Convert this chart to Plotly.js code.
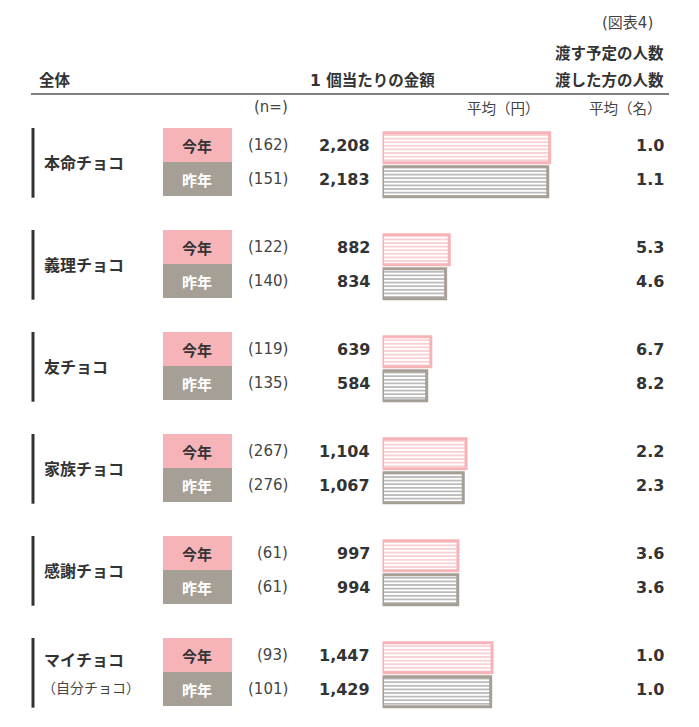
<!DOCTYPE html>
<html><head><meta charset="utf-8">
<script src="https://cdn.plot.ly/plotly-3.0.1.min.js"></script>
<style>html,body{margin:0;padding:0;background:#fff;}#c{width:699px;height:727px;}</style>
</head><body><div id="c"></div>
<script>
const categories = ["本命チョコ","義理チョコ","友チョコ","家族チョコ","感謝チョコ","マイチョコ"];
const subLabels = ["","","","","","（自分チョコ）"];
const yearLabels = ["今年","昨年"];
const nThis = [162,122,119,267,61,93];
const nLast = [151,140,135,276,61,101];
const amountThis = [2208,882,639,1104,997,1447];
const amountLast = [2183,834,584,1067,994,1429];
const peopleThis = [1.0,5.3,6.7,2.2,3.6,1.0];
const peopleLast = [1.1,4.6,8.2,2.3,3.6,1.0];

const W=699,H=727;
const px = v => v/W;
const FONT = '"Noto Sans CJK JP", "Noto Sans", sans-serif';
const NUMFONT = '"DejaVu Sans", "Noto Sans CJK JP", sans-serif';
const DARK = '#333333';
const PINK = '#F6B3B8';
const GREY = '#A69F96';

// row index: group i row j -> i*3 + j ; row center pixel = 145 + 34*row
const rowPx = 34, row0 = 145;
const yTop = -row0/rowPx, yBot = (H-row0)/rowPx;
const barStart = 382.5, pxPerYen = 0.0757;
const xMax = (W-barStart)/pxPerYen;

const yThis = categories.map((c,i)=>i*3);
const yLast = categories.map((c,i)=>i*3+1);

const fmt = v => v.toLocaleString('en-US');

const traces = [
  {type:'bar', orientation:'h', x:amountThis, y:yThis, width:0.88, offset:-0.36,
   marker:{color:'#ffffff', line:{color:PINK, width:3},
     pattern:{shape:'-', fgcolor:PINK, bgcolor:'#ffffff', size:3.6, solidity:0.3}},
   hoverinfo:'skip'},
  {type:'bar', orientation:'h', x:amountLast, y:yLast, width:0.88, offset:-0.36,
   marker:{color:'#ffffff', line:{color:GREY, width:3},
     pattern:{shape:'-', fgcolor:'#8E8E8E', bgcolor:'#ffffff', size:3.6, solidity:0.3}},
   hoverinfo:'skip'}
];

const shapes = [], annotations = [];
const txt = (x, y, text, opts={}) => annotations.push({
  xref:'paper', yref:'y', x:px(x), y:y, text:text, showarrow:false,
  xanchor:opts.xanchor||'left', yanchor:'middle',
  font:{family:opts.family||FONT, size:opts.size||15, color:opts.color||DARK, weight:opts.bold?'bold':'normal'}
});

// header
const pyToPaper = p => 1 - p/H;
const hdr = (x, p, text, o={}) => annotations.push({xref:'paper', yref:'paper', x:px(x), y:pyToPaper(p), text:text,
  showarrow:false, xanchor:o.xanchor||'left', yanchor:'middle',
  font:{family:o.family||FONT, size:o.size||15, color:o.color||DARK, weight:o.bold?'bold':'normal'}});
hdr(655, 23, "(図表4)", {xanchor:'right', size:15, color:'#444', family:NUMFONT});
hdr(666, 52, "渡す予定の人数", {xanchor:'right', bold:true, size:15.5});
hdr(666, 79, "渡した方の人数", {xanchor:'right', bold:true, size:15.5});
hdr(37, 79, "全体", {bold:true, size:15.5});
hdr(437, 79, "<span style='font-family:DejaVu Sans'>1 </span>個当たりの金額", {xanchor:'right', bold:true, size:15.5});
hdr(290, 107, "(n=)", {xanchor:'right', size:15, color:'#444', family:NUMFONT});
hdr(542, 107, "平均（円）", {xanchor:'right', size:14.5, color:'#444'});
hdr(664, 107, "平均（名）", {xanchor:'right', size:14.5, color:'#444'});
shapes.push({type:'line', xref:'paper', yref:'paper', x0:px(31), x1:px(669), y0:pyToPaper(94), y1:pyToPaper(94),
  line:{color:'#555', width:1.6}});

categories.forEach((cat,i)=>{
  const y0 = yThis[i], y1 = yLast[i];
  shapes.push({type:'line', xref:'paper', yref:'y', x0:px(33), x1:px(33), y0:y0-0.5, y1:y1+0.55,
    line:{color:DARK, width:3}});
  shapes.push({type:'rect', xref:'paper', yref:'y', x0:px(163), x1:px(232), y0:y0-0.5, y1:y0+0.5,
    fillcolor:PINK, line:{width:0}, layer:'below'});
  shapes.push({type:'rect', xref:'paper', yref:'y', x0:px(163), x1:px(232), y0:y1-0.5, y1:y1+0.5,
    fillcolor:GREY, line:{width:0}, layer:'below'});
  txt(197.5, y0, yearLabels[0], {xanchor:'center', bold:true});
  txt(197.5, y1, yearLabels[1], {xanchor:'center', bold:true, color:'#ffffff'});
  if (subLabels[i]) {
    txt(42, (y0+y1)/2 - 0.38, cat, {bold:true, size:16});
    txt(40, (y0+y1)/2 + 0.44, subLabels[i], {size:14, color:'#444'});
  } else {
    txt(42, (y0+y1)/2, cat, {bold:true, size:16});
  }
  txt(290, y0, "(" + nThis[i] + ")", {xanchor:'right', color:'#444', family:NUMFONT});
  txt(290, y1, "(" + nLast[i] + ")", {xanchor:'right', color:'#444', family:NUMFONT});
  txt(372, y0, fmt(amountThis[i]), {xanchor:'right', bold:true, size:16, family:NUMFONT});
  txt(372, y1, fmt(amountLast[i]), {xanchor:'right', bold:true, size:16, family:NUMFONT});
  txt(666, y0, peopleThis[i].toFixed(1), {xanchor:'right', bold:true, size:16, family:NUMFONT});
  txt(666, y1, peopleLast[i].toFixed(1), {xanchor:'right', bold:true, size:16, family:NUMFONT});
});

const layout = {
  width:W, height:H, margin:{l:0,r:0,t:0,b:0},
  paper_bgcolor:'#ffffff', plot_bgcolor:'rgba(0,0,0,0)',
  showlegend:false, barmode:'overlay',
  xaxis:{domain:[barStart/W,1], range:[0,xMax], visible:false, fixedrange:true},
  yaxis:{range:[yBot,yTop], visible:false, fixedrange:true},
  shapes:shapes, annotations:annotations
};
Plotly.newPlot('c', traces, layout, {staticPlot:true, displayModeBar:false});
</script></body></html>
